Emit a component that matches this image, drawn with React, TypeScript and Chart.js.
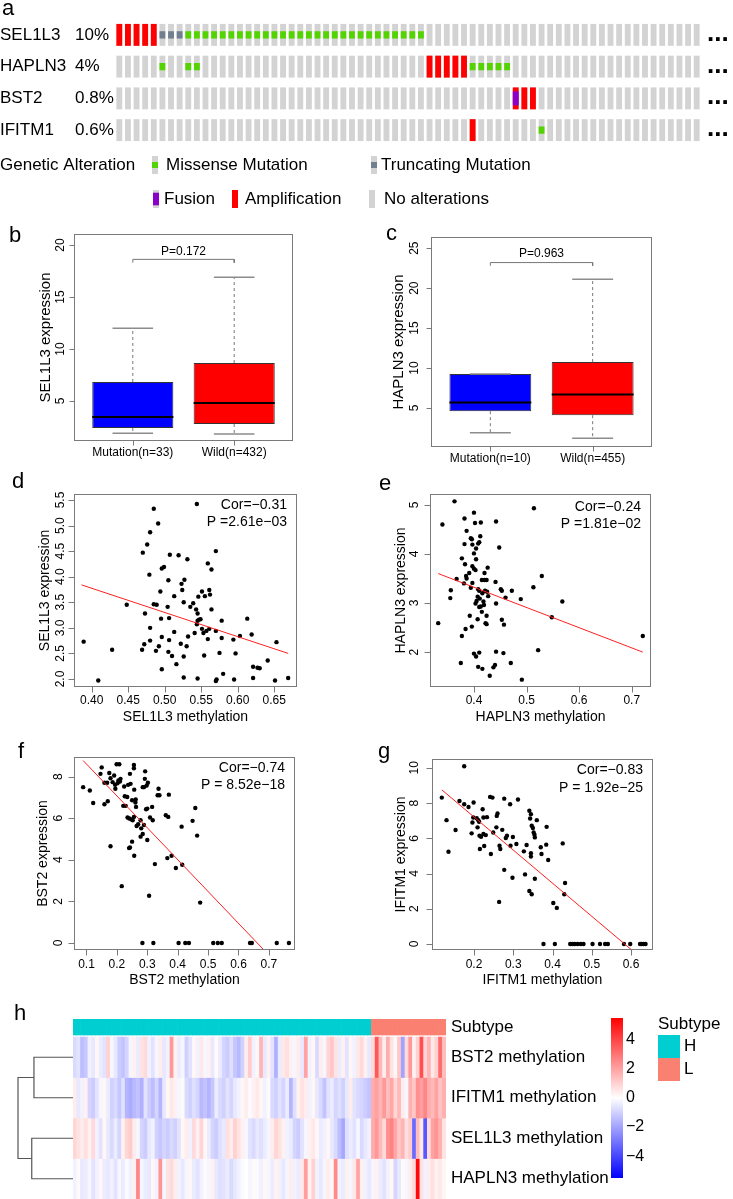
import React, { useEffect, useRef } from 'react';
import { Chart, registerables } from 'chart.js';

Chart.register(...registerables);

const FONT = '"Liberation Sans", Arial, Helvetica, sans-serif';
const font = (px: number) => `${px}px ${FONT}`;
const AXIS = '#7a7a7a';

/* ================= a: oncoprint ================= */
const genes = ['SEL1L3', 'HAPLN3', 'BST2', 'IFITM1'];
const alteredPct = ['10%', '4%', '0.8%', '0.6%'];
const caseIds = Array.from({ length: 68 }, (_, i) => `case ${i + 1}`);
const amplified = [[0, 1, 2, 3, 4], [36, 37, 38, 39, 40], [46, 47, 48], [41]];
const missenseMut = [
  [8, 9, 10, 11, 12, 13, 14, 15, 16, 17, 18, 19, 20, 21, 22, 23, 24, 25, 26, 27, 28, 29, 30, 31, 32, 33, 34, 35],
  [5, 8, 9, 41, 42, 43, 44, 45],
  [],
  [49],
];
const truncatingMut = [[5, 6, 7], [], [], []];
const fusions = [[], [], [46], []];
const legendTitle = 'Genetic Alteration';
const legendLabels = ['Missense Mutation', 'Truncating Mutation', 'Fusion', 'Amplification', 'No alterations'];
const legendKinds = ['missense', 'trunc', 'fusion', 'amp', 'none'];

const ONCO = { grey: '#D3D3D3', amp: '#FF0000', missense: '#53D400', trunc: '#708090', fusion: '#8B00C9' };

/* ================= b / c: boxplots ================= */
const bGroups = ['Mutation(n=33)', 'Wild(n=432)'];
const bLow = [1.9, 1.83];
const bQ1 = [2.4, 2.79];
const bMedian = [3.46, 4.8];
const bQ3 = [6.83, 8.65];
const bHigh = [12.0, 16.9];
const bYTicks = [5, 10, 15, 20];
const bPText = 'P=0.172';

const cGroups = ['Mutation(n=10)', 'Wild(n=455)'];
const cLow = [1.9, 1.2];
const cQ1 = [4.6, 4.1];
const cMedian = [5.7, 6.7];
const cQ3 = [9.25, 10.75];
const cHigh = [9.25, 21.1];
const cYTicks = [5, 10, 15, 20, 25];
const cPText = 'P=0.963';

/* ================= d-g: scatter plots ================= */
const dPoints: [number, number][] = [
  [0.389, 2.73], [0.409, 1.97], [0.428, 2.57], [0.448, 3.45], [0.469, 2.57], [0.472, 2.68], [0.473, 3.28], [0.470, 4.47], [0.476, 4.63], [0.480, 4.87],
  [0.485, 5.33], [0.491, 5.04], [0.479, 4.04], [0.480, 3.00], [0.480, 2.75], [0.488, 2.55], [0.492, 2.64], [0.485, 3.46], [0.489, 3.45], [0.494, 3.71],
  [0.495, 3.18], [0.496, 2.82], [0.496, 4.16], [0.499, 4.19], [0.496, 2.19], [0.505, 3.93], [0.504, 3.41], [0.506, 3.19], [0.505, 2.53], [0.506, 2.76],
  [0.507, 4.43], [0.510, 2.45], [0.513, 3.62], [0.513, 2.92], [0.516, 2.29], [0.519, 4.42], [0.523, 3.86], [0.524, 3.74], [0.527, 3.94], [0.526, 3.50],
  [0.526, 2.44], [0.522, 2.69], [0.526, 2.03], [0.531, 4.34], [0.530, 2.64], [0.532, 2.83], [0.535, 3.41], [0.539, 3.48], [0.541, 2.90], [0.543, 3.36],
  [0.544, 3.07], [0.544, 5.42], [0.545, 3.28], [0.545, 3.14], [0.546, 3.61], [0.547, 3.16], [0.545, 2.01], [0.549, 3.17], [0.551, 3.71], [0.551, 2.98],
  [0.553, 2.90], [0.554, 2.46], [0.555, 3.62], [0.557, 2.94], [0.559, 4.26], [0.559, 2.78], [0.561, 3.74], [0.562, 3.65], [0.561, 2.98], [0.564, 4.14],
  [0.564, 3.36], [0.570, 4.50], [0.570, 2.94], [0.570, 1.96], [0.571, 1.99], [0.575, 2.51], [0.578, 3.14], [0.578, 2.80], [0.580, 2.10], [0.594, 2.77],
  [0.597, 2.50], [0.595, 1.99], [0.603, 2.84], [0.613, 3.18], [0.619, 2.87], [0.621, 2.24], [0.621, 2.02], [0.627, 2.22], [0.630, 2.21], [0.641, 2.36],
  [0.653, 2.72], [0.651, 1.97], [0.669, 2.02],
];
const dFit: [number, number][] = [[0.386, 3.84], [0.669, 2.50]];
const dXTicks = [0.4, 0.45, 0.5, 0.55, 0.6, 0.65];
const dXLabels = ['0.40', '0.45', '0.50', '0.55', '0.60', '0.65'];
const dYTicks = [2, 2.5, 3, 3.5, 4, 4.5, 5, 5.5];
const dYLabels = ['2.0', '2.5', '3.0', '3.5', '4.0', '4.5', '5.0', '5.5'];
const dStats = ['Cor=\u22120.31', 'P =2.61e\u221203'];

const ePoints: [number, number][] = [
  [0.363, 5.07], [0.340, 4.60], [0.400, 4.84], [0.382, 4.72], [0.402, 4.63], [0.413, 4.64], [0.442, 4.66], [0.386, 4.47], [0.394, 4.32], [0.396, 4.30],
  [0.412, 4.36], [0.410, 4.24], [0.408, 4.21], [0.382, 4.20], [0.397, 4.19], [0.404, 4.11], [0.448, 4.13], [0.400, 4.01], [0.377, 3.91], [0.404, 3.89],
  [0.383, 3.79], [0.397, 3.75], [0.400, 3.70], [0.403, 3.67], [0.426, 3.72], [0.420, 3.61], [0.391, 3.61], [0.385, 3.55], [0.367, 3.49], [0.386, 3.50],
  [0.415, 3.47], [0.420, 3.47], [0.424, 3.47], [0.381, 3.40], [0.397, 3.41], [0.441, 3.43], [0.394, 3.31], [0.356, 3.26], [0.408, 3.28], [0.410, 3.25],
  [0.421, 3.25], [0.425, 3.23], [0.451, 3.28], [0.453, 3.25], [0.472, 3.25], [0.513, 3.32], [0.529, 3.55], [0.416, 3.20], [0.407, 3.13], [0.411, 3.09],
  [0.427, 3.14], [0.460, 3.11], [0.489, 3.08], [0.355, 3.10], [0.405, 3.04], [0.418, 3.03], [0.403, 2.99], [0.442, 2.99], [0.413, 2.93], [0.410, 2.92],
  [0.419, 2.96], [0.568, 3.03], [0.415, 2.82], [0.392, 2.74], [0.424, 2.74], [0.407, 2.67], [0.422, 2.59], [0.424, 2.57], [0.453, 2.66], [0.457, 2.56],
  [0.548, 2.71], [0.332, 2.59], [0.384, 2.47], [0.396, 2.52], [0.377, 2.33], [0.721, 2.33], [0.400, 1.97], [0.410, 1.99], [0.404, 1.91], [0.442, 2.01],
  [0.456, 1.98], [0.522, 2.04], [0.375, 1.78], [0.408, 1.70], [0.416, 1.66], [0.440, 1.74], [0.437, 1.69], [0.470, 1.78], [0.430, 1.52], [0.491, 1.44],
  [0.514, 4.93],
];
const eFit: [number, number][] = [[0.332, 3.60], [0.721, 2.00]];
const eXTicks = [0.4, 0.5, 0.6, 0.7];
const eXLabels = ['0.4', '0.5', '0.6', '0.7'];
const eYTicks = [2, 3, 4, 5];
const eYLabels = ['2', '3', '4', '5'];
const eStats = ['Cor=\u22120.24', 'P =1.81e\u221202'];

const fPoints: [number, number][] = [
  [0.089, 7.49], [0.111, 7.33], [0.122, 6.73], [0.146, 8.13], [0.150, 8.44], [0.159, 7.70], [0.168, 7.70], [0.175, 8.17], [0.179, 7.92], [0.186, 7.73],
  [0.191, 8.05], [0.194, 7.60], [0.195, 7.41], [0.199, 8.59], [0.208, 8.59], [0.205, 7.81], [0.212, 7.89], [0.210, 7.76], [0.202, 7.68], [0.221, 6.59],
  [0.229, 6.59], [0.224, 7.52], [0.234, 7.02], [0.237, 7.60], [0.243, 8.13], [0.245, 7.65], [0.250, 6.86], [0.256, 8.56], [0.256, 8.40], [0.257, 7.37],
  [0.261, 6.75], [0.263, 6.54], [0.235, 6.03], [0.241, 5.98], [0.248, 5.94], [0.252, 5.90], [0.265, 5.62], [0.256, 6.06], [0.270, 5.71], [0.278, 5.90],
  [0.280, 5.51], [0.278, 5.11], [0.285, 5.24], [0.289, 5.67], [0.293, 8.25], [0.285, 7.49], [0.289, 7.49], [0.298, 7.57], [0.302, 7.70], [0.292, 7.89],
  [0.300, 4.95], [0.250, 4.87], [0.243, 4.59], [0.240, 4.56], [0.257, 4.19], [0.179, 4.65], [0.216, 2.73], [0.306, 2.27], [0.296, 6.43], [0.300, 6.46],
  [0.316, 6.54], [0.309, 6.03], [0.318, 5.90], [0.334, 7.10], [0.337, 7.41], [0.340, 7.10], [0.325, 3.79], [0.361, 6.14], [0.369, 6.06], [0.371, 7.13],
  [0.366, 4.08], [0.380, 4.19], [0.394, 3.60], [0.413, 5.59], [0.415, 3.76], [0.449, 5.87], [0.458, 6.49], [0.464, 5.16], [0.474, 1.94], [0.226, 7.05],
  [0.262, 6.90], [0.170, 6.81], [0.159, 6.67],
  [0.284, 0], [0.320, 0], [0.403, 0], [0.425, 0], [0.437, 0], [0.517, 0], [0.532, 0], [0.545, 0], [0.638, 0], [0.644, 0], [0.726, 0], [0.766, 0],
];
const fFit: [number, number][] = [[0.089, 8.77], [0.766, -1.6]];
const fXTicks = [0.1, 0.2, 0.3, 0.4, 0.5, 0.6, 0.7];
const fXLabels = ['0.1', '0.2', '0.3', '0.4', '0.5', '0.6', '0.7'];
const fYTicks = [0, 2, 4, 6, 8];
const fYLabels = ['0', '2', '4', '6', '8'];
const fStats = ['Cor=\u22120.74', 'P = 8.52e\u221218'];

const gPoints: [number, number][] = [
  [0.175, 10.09], [0.118, 8.31], [0.130, 7.03], [0.153, 6.47], [0.135, 5.24], [0.163, 8.12], [0.175, 7.93], [0.186, 7.78], [0.199, 8.03], [0.198, 7.18],
  [0.196, 6.90], [0.207, 7.14], [0.211, 7.03], [0.213, 6.94], [0.209, 6.62], [0.222, 7.65], [0.224, 7.18], [0.233, 7.20], [0.194, 6.28], [0.214, 6.15],
  [0.218, 6.09], [0.224, 6.24], [0.230, 6.18], [0.215, 5.39], [0.226, 5.56], [0.241, 8.35], [0.247, 8.31], [0.243, 5.11], [0.249, 6.33], [0.258, 7.27],
  [0.260, 7.41], [0.257, 6.62], [0.265, 5.58], [0.267, 5.39], [0.272, 6.48], [0.277, 8.25], [0.281, 6.02], [0.284, 6.15], [0.292, 7.93], [0.293, 5.58],
  [0.299, 6.07], [0.308, 5.68], [0.312, 8.20], [0.277, 4.21], [0.298, 3.76], [0.264, 2.39], [0.327, 5.26], [0.330, 3.95], [0.334, 5.62], [0.341, 7.56],
  [0.343, 7.12], [0.345, 7.37], [0.347, 6.71], [0.350, 6.58], [0.352, 6.33], [0.354, 6.20], [0.355, 6.05], [0.360, 7.03], [0.345, 5.15], [0.345, 4.96],
  [0.355, 3.70], [0.341, 3.01], [0.347, 2.82], [0.370, 5.49], [0.372, 5.11], [0.385, 6.65], [0.384, 5.64], [0.389, 4.77], [0.402, 2.33], [0.411, 2.05],
  [0.426, 5.71], [0.432, 3.46], [0.430, 2.82],
  [0.377, 0], [0.406, 0], [0.445, 0], [0.451, 0], [0.457, 0], [0.464, 0], [0.472, 0], [0.479, 0], [0.502, 0], [0.521, 0],
  [0.534, 0], [0.541, 0], [0.582, 0], [0.598, 0], [0.623, 0], [0.627, 0], [0.632, 0], [0.637, 0],
];
const gFit: [number, number][] = [[0.118, 8.75], [0.637, -1.0]];
const gXTicks = [0.2, 0.3, 0.4, 0.5, 0.6];
const gXLabels = ['0.2', '0.3', '0.4', '0.5', '0.6'];
const gYTicks = [0, 2, 4, 6, 8, 10];
const gYLabels = ['0', '2', '4', '6', '8', '10'];
const gStats = ['Cor=\u22120.83', 'P = 1.92e\u221225'];

/* ================= h: heatmap ================= */
const heatRowNames = ['BST2 methylation', 'IFITM1 methylation', 'SEL1L3 methylation', 'HAPLN3 methylation'];
const subtypeGroups = ['H', 'L'];
const subtypeSizes = [80, 20];
const bst2Meth = [
  -0.8, -0.6, -1.4, -1.2, -0.3, -0.5, 0.2, -0.4, -0.6, 1.0, -0.2, -0.5, -1.1, -1.3, -0.9, -0.2, 0.3, -0.4, 0.6, 0.8,
  -0.3, -0.6, -0.2, 0.4, -0.5, -0.3, 2.2, 0.3, -0.4, -0.2, -1.0, -0.6, 0.2, -0.3, 0.5, -0.2, 0.3, -0.5, 0.1, -0.4,
  -0.9, -1.1, -0.7, -1.2, -1.5, -1.0, 0.4, 1.1, -0.3, 0.2, 1.6, -0.5, 0.3, -0.6, -1.7, -0.4, 0.5, 0.7, 0.3, -0.2,
  0.4, -0.5, 2.0, -0.3, 0.2, -0.8, 0.4, -0.2, 0.9, 1.2, 0.6, -0.4, 0.3, -0.6, 0.2, -0.3, 0.5, 0.8, 0.3, -0.5,
  0.8, 3.6, 1.5, 0.4, 1.8, 0.6, 0.2, 1.2, -2.0, 0.8, 2.2, 0.3, 1.0, 3.8, 0.9, 1.6, 0.5, 1.0, 3.2, 1.4,
];
const ifitm1Meth = [
  0.4, -0.5, -0.3, 0.3, -0.9, -1.1, -0.6, -0.2, 0.2, -0.4, -1.0, -0.8, -1.2, -0.7, -1.6, -1.8, -1.5, -1.3, -1.7, -0.6,
  -1.1, -1.4, -0.9, -1.6, -0.5, 0.2, 0.5, 0.3, -0.2, 0.1, -0.8, -1.0, -0.7, -0.9, -1.5, -1.3, -1.6, -1.2, -0.4, -0.8,
  -1.0, -0.6, -0.9, -0.5, -0.3, 0.2, 0.4, -0.1, 0.3, 0.5, 0.2, -0.3, 0.1, -0.8, -1.0, -0.6, -0.9, -0.4, -1.6, -0.7,
  0.3, 0.6, 0.4, -0.3, 0.2, -0.5, -0.8, -1.3, -0.6, -0.4, -0.9, -0.7, -1.0, -0.5, 0.4, -0.6, -0.8, -0.9, -1.1, -1.3,
  1.8, 2.0, 1.6, 2.2, 1.4, 1.9, 0.9, 1.5, 0.4, -0.2, 1.7, 1.2, 2.4, 2.1, 2.6, 1.8, 1.5, 2.0, 1.3, 1.7,
];
const sel1l3Meth = [
  0.9, 0.6, 0.4, 0.7, 0.3, 0.8, -0.3, -0.6, 0.2, -0.5, -0.8, -0.4, -0.9, 0.3, 0.9, 1.1, 0.4, -0.2, -0.9, -1.1,
  -0.5, -0.3, -1.0, -1.2, -0.9, -1.1, -0.8, -1.0, -0.6, 0.2, 0.4, -0.3, 0.8, 0.3, 0.9, 0.2, -0.4, -0.9, -1.1, -0.7,
  -0.5, 0.7, 0.4, 1.0, 0.6, 0.3, -0.2, -0.6, -0.8, -0.5, -0.7, -0.4, -0.2, 0.4, 0.9, 0.6, 0.3, -0.3, -0.4, -0.9,
  -1.1, -0.6, -0.2, 0.3, 0.5, 0.2, -0.4, -0.3, 0.2, -0.5, -0.8, -1.4, -1.9, -0.7, -0.4, -0.6, -0.2, -0.8, -0.5, -0.3,
  1.8, 2.2, 1.5, 0.8, 2.4, 2.7, 1.9, 1.2, 1.6, 0.7, 1.1, -3.2, 1.4, 0.5, -3.6, 0.8, 2.0, 2.3, 1.7, 0.6,
];
const hapln3Meth = [
  -0.3, 0.1, -0.5, -0.4, -0.2, -0.6, -0.3, 0.2, -0.4, -0.5, -0.3, -0.6, -0.2, -0.4, -0.1, -0.3, 0.3, 2.6, -0.2, -0.4,
  -0.5, 0.2, -0.3, 2.3, -0.2, 0.6, 0.8, 0.4, -0.3, -0.5, -0.2, 0.2, -0.4, -0.6, -0.3, 0.1, -0.2, 0.3, -0.5, -0.7,
  -0.6, -0.4, -0.8, -0.5, -0.3, -0.1, 0.0, -0.2, 0.1, -0.1, -0.3, 0.2, -0.2, -0.4, 0.3, -0.3, -0.5, -0.2, 0.4, -0.3,
  -0.4, 0.5, 2.1, 0.3, 1.0, -0.3, -0.5, -0.2, 0.4, 0.2, 2.5, -0.3, -0.4, 0.3, -0.2, 0.5, 2.0, 0.3, -0.3, -0.5,
  -0.2, 0.3, -0.4, -0.6, -0.3, 0.2, -0.9, -0.5, 0.1, -0.2, 0.4, 0.8, 5.3, 0.6, -0.3, 0.4, 0.7, 0.3, 0.5, 0.2,
];
const heatRows = [bst2Meth, ifitm1Meth, sel1l3Meth, hapln3Meth];
const clusterHeights = [0.71, 0.75, 1.0]; // (BST2,IFITM1), (SEL1L3,HAPLN3), root
const colorTicks = [4, 2, 0, -2, -4];
const colorTickLabels = ['4', '2', '0', '\u22122', '\u22124'];
const colorLimit = 5.5;
const SUBTYPE_COLORS = ['#00CED1', '#FA8072'];

/* ================= helpers ================= */
function drawText(ctx: CanvasRenderingContext2D, s: string, x: number, y: number, f: string, align: CanvasTextAlign = 'left', rot = 0, baseline: CanvasTextBaseline = 'middle', color = '#000') {
  ctx.save();
  ctx.font = f;
  ctx.fillStyle = color;
  ctx.textAlign = align;
  ctx.textBaseline = baseline;
  ctx.translate(x, y);
  if (rot) ctx.rotate(rot);
  ctx.fillText(s, 0, 0);
  ctx.restore();
}

const baseOptions = (padding: any) => ({
  responsive: false,
  animation: false,
  events: [],
  layout: { padding },
  plugins: { legend: { display: false }, tooltip: { enabled: false } },
});

type PanelCfg = {
  letter: [string, number, number];
  tickLen: number;
  xTicks: number[]; xTickLabels: string[]; xLabelY: number; xTickPx: number;
  xTitle?: string; xTitleY?: number;
  yTicks: number[]; yTickLabels: string[]; yLabelX: number; yTickPx: number;
  yTitle: string; yTitleX: number; titlePx: number;
  notes?: { text: string; x: number; y: number; align: CanvasTextAlign; px: number; data?: boolean }[];
};

function rPanel(cfg: PanelCfg) {
  return {
    id: 'rPanel',
    afterDatasetsDraw(chart: any) {
      const { ctx, chartArea: a, scales } = chart;
      const xs = scales.x;
      const ys = scales.y;
      ctx.save();
      ctx.strokeStyle = AXIS;
      ctx.lineWidth = 1;
      const L = Math.round(a.left) + 0.5;
      const T = Math.round(a.top) + 0.5;
      const R = Math.round(a.right) - 0.5;
      const B = Math.round(a.bottom) - 0.5;
      ctx.strokeRect(L, T, R - L, B - T);
      ctx.beginPath();
      cfg.xTicks.forEach((v) => {
        const px = Math.round(xs.getPixelForValue(v)) + 0.5;
        ctx.moveTo(px, B);
        ctx.lineTo(px, B + cfg.tickLen);
      });
      cfg.yTicks.forEach((v) => {
        const py = Math.round(ys.getPixelForValue(v)) + 0.5;
        ctx.moveTo(L, py);
        ctx.lineTo(L - cfg.tickLen, py);
      });
      ctx.stroke();
      ctx.restore();
      cfg.xTicks.forEach((v, i) => drawText(ctx, cfg.xTickLabels[i], xs.getPixelForValue(v), cfg.xLabelY, font(cfg.xTickPx), 'center'));
      cfg.yTicks.forEach((v, i) => drawText(ctx, cfg.yTickLabels[i], cfg.yLabelX, ys.getPixelForValue(v), font(cfg.yTickPx), 'center', -Math.PI / 2));
      if (cfg.xTitle) drawText(ctx, cfg.xTitle, (a.left + a.right) / 2, cfg.xTitleY as number, font(cfg.titlePx), 'center');
      drawText(ctx, cfg.yTitle, cfg.yTitleX, (a.top + a.bottom) / 2, font(cfg.titlePx), 'center', -Math.PI / 2);
      (cfg.notes || []).forEach((n) => {
        const x = n.data ? xs.getPixelForValue(n.x) : n.x;
        const y = n.data ? ys.getPixelForValue(n.y) : n.y;
        drawText(ctx, n.text, x, y, font(n.px), n.align);
      });
      drawText(ctx, cfg.letter[0], cfg.letter[1], cfg.letter[2], font(22), 'left', 0, 'alphabetic');
    },
  };
}

/* ================= chart configs ================= */
function oncoConfig() {
  const band = (lo: number, hi: number) => (r: number, c: number) => ({ x: caseIds[c], y: [r + lo, r + hi] });
  const full = band(0.155, 0.845);
  const mid = band(0.385, 0.615);
  const fus = band(0.28, 0.72);
  const ds = (data: any[], color: string, order: number) => ({
    data, backgroundColor: color, order, borderWidth: 0, grouped: false, barPercentage: 0.68, categoryPercentage: 1,
  });
  const grey = genes.flatMap((_, r) => caseIds.map((__, c) => full(r, c)));
  const amp = amplified.flatMap((cols, r) => cols.map((c) => full(r, c)));
  const fu = fusions.flatMap((cols, r) => cols.map((c) => fus(r, c)));
  const mis = missenseMut.flatMap((cols, r) => cols.map((c) => mid(r, c)));
  const tr = truncatingMut.flatMap((cols, r) => cols.map((c) => mid(r, c)));

  const swatchX = [152, 371, 153, 232, 369];
  const labelX = [166, 381, 164, 245, 384];
  const rowY = [165, 165, 199, 199, 199];

  const oncoText = {
    id: 'oncoText',
    afterDatasetsDraw(chart: any) {
      const { ctx, scales } = chart;
      const y = scales.y;
      genes.forEach((g, r) => {
        const cy = y.getPixelForValue(r + 0.5);
        drawText(ctx, g, 0, cy, font(17));
        drawText(ctx, alteredPct[r], 75, cy, font(17));
        drawText(ctx, '...', 707, cy + 6, `bold 26px ${FONT}`, 'left', 0, 'alphabetic');
      });
      drawText(ctx, 'a', 2, 15, font(22), 'left', 0, 'alphabetic');
      drawText(ctx, legendTitle, 0, 165, font(17));
      legendKinds.forEach((k, i) => {
        const x = swatchX[i];
        const yc = rowY[i];
        const h = 18;
        const top = yc - h / 2;
        ctx.fillStyle = k === 'amp' ? ONCO.amp : ONCO.grey;
        ctx.fillRect(x, top, 6, h);
        if (k === 'missense' || k === 'trunc') {
          ctx.fillStyle = k === 'missense' ? ONCO.missense : ONCO.trunc;
          ctx.fillRect(x, top + h / 3, 6, h / 3);
        }
        if (k === 'fusion') {
          ctx.fillStyle = ONCO.fusion;
          ctx.fillRect(x, top + h * 0.15, 6, h * 0.7);
        }
        drawText(ctx, legendLabels[i], labelX[i], yc, font(17));
      });
    },
  };

  return {
    type: 'bar',
    data: {
      labels: caseIds,
      datasets: [ds(grey, ONCO.grey, 5), ds(amp, ONCO.amp, 4), ds(fu, ONCO.fusion, 3), ds(mis, ONCO.missense, 2), ds(tr, ONCO.trunc, 1)],
    },
    options: {
      ...baseOptions({ left: 115, right: 32, top: 19, bottom: 215 - 146 }),
      scales: {
        x: { display: false },
        y: { type: 'linear', display: false, min: 0, max: 4, reverse: true },
      },
    },
    plugins: [oncoText],
  };
}

function boxConfig(o: {
  groups: string[]; low: number[]; q1: number[]; med: number[]; q3: number[]; high: number[];
  yTicks: number[]; yRange: [number, number]; padding: any; bracket: [number, number]; pText: string; pY: number;
  letter: [string, number, number]; xLabelY: number; yLabelX: number; yTitle: string; yTitleX: number;
}) {
  const pos = o.groups.map((_, i) => i + 1);
  const line = (data: any[], color: string, width: number, order: number, dash: number[] = []) => ({
    type: 'line', data, borderColor: color, borderWidth: width, borderDash: dash, pointRadius: 0, fill: false, order, spanGaps: false,
  });
  const whisk = pos.flatMap((x, i) => [
    { x, y: o.q3[i] }, { x, y: o.high[i] }, { x, y: null },
    { x, y: o.q1[i] }, { x, y: o.low[i] }, { x, y: null },
  ]);
  const caps = pos.flatMap((x, i) => [
    { x: x - 0.2, y: o.high[i] }, { x: x + 0.2, y: o.high[i] }, { x, y: null },
    { x: x - 0.2, y: o.low[i] }, { x: x + 0.2, y: o.low[i] }, { x, y: null },
  ]);
  const meds = pos.flatMap((x, i) => [{ x: x - 0.4, y: o.med[i] }, { x: x + 0.4, y: o.med[i] }, { x, y: null }]);
  const bracket = [
    { x: 1, y: o.bracket[0] }, { x: 1, y: o.bracket[1] }, { x: 2, y: o.bracket[1] }, { x: 2, y: o.bracket[0] },
  ];
  return {
    type: 'bar',
    data: {
      datasets: [
        {
          type: 'bar',
          data: pos.map((x, i) => ({ x, y: [o.q1[i], o.q3[i]] })),
          backgroundColor: ['#0000FF', '#FF0000'],
          borderColor: '#333333',
          borderWidth: 1,
          borderSkipped: false,
          barPercentage: 1,
          categoryPercentage: 0.8,
          grouped: false,
          order: 6,
        },
        line(whisk, '#777777', 1, 5, [3, 3]),
        line(caps, '#8c8c8c', 1.5, 4),
        line(meds, '#000000', 2, 1),
        line(bracket, '#777777', 1, 2),
      ],
    },
    options: {
      ...baseOptions(o.padding),
      scales: {
        x: {
          type: 'linear', display: false, min: 0.42, max: 2.58, offset: false,
          afterBuildTicks: (s: any) => { s.ticks = pos.map((v) => ({ value: v })); },
        },
        y: { type: 'linear', display: false, min: o.yRange[0], max: o.yRange[1] },
      },
    },
    plugins: [
      rPanel({
        letter: o.letter, tickLen: 5,
        xTicks: pos, xTickLabels: o.groups, xLabelY: o.xLabelY, xTickPx: 12,
        yTicks: o.yTicks, yTickLabels: o.yTicks.map(String), yLabelX: o.yLabelX, yTickPx: 12,
        yTitle: o.yTitle, yTitleX: o.yTitleX, titlePx: 15,
        notes: [{ text: o.pText, x: 1.5, y: o.pY, align: 'center', px: 12, data: true }],
      }),
    ],
  };
}

function scatterConfig(o: {
  points: [number, number][]; fit: [number, number][]; xRange: [number, number]; yRange: [number, number]; padding: any;
  cfg: PanelCfg;
}) {
  return {
    type: 'scatter',
    data: {
      datasets: [
        {
          data: o.fit.map(([x, y]) => ({ x, y })), showLine: true, borderColor: '#FF2020', borderWidth: 1, pointRadius: 0, order: 0,
        },
        {
          data: o.points.map(([x, y]) => ({ x, y })), pointRadius: 2.2, backgroundColor: '#000000', borderWidth: 0, order: 1,
        },
      ],
    },
    options: {
      ...baseOptions(o.padding),
      scales: {
        x: { type: 'linear', display: false, min: o.xRange[0], max: o.xRange[1] },
        y: { type: 'linear', display: false, min: o.yRange[0], max: o.yRange[1] },
      },
    },
    plugins: [rPanel(o.cfg)],
  };
}

function heatColor(v: number) {
  const t = Math.max(-1, Math.min(1, v / colorLimit));
  if (t >= 0) {
    const g = Math.round(255 * (1 - t));
    return `rgb(255,${g},${g})`;
  }
  const g = Math.round(255 * (1 + t));
  return `rgb(${g},${g},255)`;
}

const sampleIds = heatRows[0].map((_, i) => `S${i + 1}`);
const sampleSubtype = subtypeGroups.flatMap((g, k) => Array(subtypeSizes[k]).fill(g));

function heatConfig() {
  const cell = { borderWidth: 0, grouped: false, barPercentage: 1, categoryPercentage: 1 };
  const rowSets = heatRows.map((vals, r) => ({
    ...cell,
    data: vals.map((_, c) => ({ x: sampleIds[c], y: [r, r + 1] })),
    backgroundColor: vals.map(heatColor),
  }));
  const subtypeSet = {
    ...cell,
    data: sampleSubtype.map((_, c) => ({ x: sampleIds[c], y: [-0.445, -0.05] })),
    backgroundColor: sampleSubtype.map((s) => SUBTYPE_COLORS[subtypeGroups.indexOf(s)]),
  };
  const heatText = {
    id: 'heatText',
    afterDatasetsDraw(chart: any) {
      const { ctx, chartArea: a, scales } = chart;
      const y = scales.y;
      drawText(ctx, 'Subtype', a.right + 5, y.getPixelForValue(-0.25), font(17));
      heatRowNames.forEach((n, r) => drawText(ctx, n, a.right + 5, y.getPixelForValue(r + 0.5), font(17)));
    },
  };
  return {
    type: 'bar',
    data: { labels: sampleIds, datasets: [subtypeSet, ...rowSets] },
    options: {
      ...baseOptions({ left: 13, right: 560 - 386, top: 24, bottom: 0 }),
      scales: {
        x: { display: false },
        y: { type: 'linear', display: false, min: -0.445, max: 4, reverse: true },
      },
    },
    plugins: [heatText],
  };
}

function dendroConfig() {
  const [h1, h2, h3] = clusterHeights;
  const seg = (pts: [number, number][]) => ({
    data: pts.map(([x, y]) => ({ x, y })), showLine: true, borderColor: '#555555', borderWidth: 1.2, pointRadius: 0, clip: false,
  });
  const letter = {
    id: 'letterH',
    afterDatasetsDraw(chart: any) {
      drawText(chart.ctx, 'h', 14, 25, font(22), 'left', 0, 'alphabetic');
    },
  };
  return {
    type: 'scatter',
    data: {
      datasets: [
        seg([[0, 0.5], [h1, 0.5], [h1, 1.5], [0, 1.5]]),
        seg([[0, 2.5], [h2, 2.5], [h2, 3.5], [0, 3.5]]),
        seg([[h1, 1.0], [h3, 1.0], [h3, 3.0], [h2, 3.0]]),
      ],
    },
    options: {
      ...baseOptions({ left: 18, right: 7, top: 24, bottom: 0 }),
      scales: {
        x: { type: 'linear', display: false, min: 0, max: 1, reverse: true },
        y: { type: 'linear', display: false, min: -0.445, max: 4, reverse: true },
      },
    },
    plugins: [letter],
  };
}

function colorbarConfig() {
  const legendText = {
    id: 'cbText',
    afterDatasetsDraw(chart: any) {
      const { ctx, scales } = chart;
      const y = scales.y;
      colorTicks.forEach((v, i) => drawText(ctx, colorTickLabels[i], 26, y.getPixelForValue(v), font(16)));
      drawText(ctx, 'Subtype', 58, 29, font(17));
      subtypeGroups.forEach((g, k) => {
        ctx.fillStyle = SUBTYPE_COLORS[k];
        ctx.fillRect(58, 40 + k * 23, 22, 23);
        drawText(ctx, g, 84, 51.5 + k * 23, font(17));
      });
    },
  };
  return {
    type: 'bar',
    data: {
      labels: ['scale'],
      datasets: [
        {
          data: [[-colorLimit, colorLimit]],
          borderWidth: 0,
          barPercentage: 1,
          categoryPercentage: 1,
          backgroundColor: (c: any) => {
            const a = c.chart.chartArea;
            if (!a) return '#ffffff';
            const g = c.chart.ctx.createLinearGradient(0, a.bottom, 0, a.top);
            g.addColorStop(0, '#0000FF');
            g.addColorStop(0.5, '#FFFFFF');
            g.addColorStop(1, '#FF0000');
            return g;
          },
        },
      ],
    },
    options: {
      ...baseOptions({ left: 11, right: 110, top: 23, bottom: 21 }),
      scales: {
        x: { display: false },
        y: { type: 'linear', display: false, min: -colorLimit, max: colorLimit },
      },
    },
    plugins: [legendText],
  };
}

/* ================= components ================= */
function ChartCanvas({ left, top, width, height, build }: { left: number; top: number; width: number; height: number; build: () => any }) {
  const ref = useRef<HTMLCanvasElement | null>(null);
  useEffect(() => {
    if (!ref.current) return;
    const chart = new Chart(ref.current, build());
    return () => chart.destroy();
  }, []);
  return <canvas ref={ref} width={width} height={height} style={{ position: 'absolute', left, top, width, height }} />;
}

export default function App() {
  return (
    <div style={{ position: 'absolute', left: 0, top: 0, width: 733, height: 1199, background: '#ffffff', overflow: 'hidden' }}>
      <ChartCanvas left={0} top={0} width={733} height={215} build={oncoConfig} />
      <ChartCanvas
        left={0} top={215} width={365} height={255}
        build={() => boxConfig({
          groups: bGroups, low: bLow, q1: bQ1, med: bMedian, q3: bQ3, high: bHigh,
          yTicks: bYTicks, yRange: [1.15, 21.06], padding: { left: 74, top: 19, right: 72, bottom: 29 },
          bracket: [18.3, 18.62], pText: bPText, pY: 19.36,
          letter: ['b', 9, 27], xLabelY: 238, yLabelX: 61, yTitle: 'SEL1L3 expression', yTitleX: 46,
        })}
      />
      <ChartCanvas
        left={365} top={215} width={368} height={255}
        build={() => boxConfig({
          groups: cGroups, low: cLow, q1: cQ1, med: cMedian, q3: cQ3, high: cHigh,
          yTicks: cYTicks, yRange: [0.12, 26.4], padding: { left: 66, top: 22, right: 81, bottom: 23 },
          bracket: [22.8, 23.2], pText: cPText, pY: 24.34,
          letter: ['c', 21, 25], xLabelY: 244, yLabelX: 50, yTitle: 'HAPLN3 expression', yTitleX: 34,
        })}
      />
      <ChartCanvas
        left={0} top={465} width={365} height={265}
        build={() => scatterConfig({
          points: dPoints, fit: dFit, xRange: [0.3758, 0.6811], yRange: [1.843, 5.617],
          padding: { left: 74, top: 29, right: 68, bottom: 43 },
          cfg: {
            letter: ['d', 12, 23], tickLen: 6,
            xTicks: dXTicks, xTickLabels: dXLabels, xLabelY: 236, xTickPx: 12, xTitle: 'SEL1L3 methylation', xTitleY: 252,
            yTicks: dYTicks, yTickLabels: dYLabels, yLabelX: 61, yTickPx: 12, yTitle: 'SEL1L3 expression', yTitleX: 45, titlePx: 14,
            notes: [
              { text: dStats[0], x: 287, y: 40, align: 'right', px: 14 },
              { text: dStats[1], x: 287, y: 57, align: 'right', px: 14 },
            ],
          },
        })}
      />
      <ChartCanvas
        left={365} top={465} width={368} height={265}
        build={() => scatterConfig({
          points: ePoints, fit: eFit, xRange: [0.3164, 0.7366], yRange: [1.29, 5.22],
          padding: { left: 65, top: 29, right: 82, bottom: 43 },
          cfg: {
            letter: ['e', 14, 25], tickLen: 6,
            xTicks: eXTicks, xTickLabels: eXLabels, xLabelY: 236, xTickPx: 12, xTitle: 'HAPLN3 methylation', xTitleY: 252,
            yTicks: eYTicks, yTickLabels: eYLabels, yLabelX: 50, yTickPx: 12, yTitle: 'HAPLN3 expression', yTitleX: 36, titlePx: 14,
            notes: [
              { text: eStats[0], x: 276, y: 42, align: 'right', px: 14 },
              { text: eStats[1], x: 276, y: 59, align: 'right', px: 14 },
            ],
          },
        })}
      />
      <ChartCanvas
        left={0} top={730} width={365} height={265}
        build={() => scatterConfig({
          points: fPoints, fit: fFit, xRange: [0.0589, 0.786], yRange: [-0.34, 8.94],
          padding: { left: 74, top: 27, right: 70, bottom: 45 },
          cfg: {
            letter: ['f', 18, 28], tickLen: 6,
            xTicks: fXTicks, xTickLabels: fXLabels, xLabelY: 235, xTickPx: 12, xTitle: 'BST2 methylation', xTitleY: 250,
            yTicks: fYTicks, yTickLabels: fYLabels, yLabelX: 59, yTickPx: 12, yTitle: 'BST2 expression', yTitleX: 43, titlePx: 14,
            notes: [
              { text: fStats[0], x: 285, y: 38, align: 'right', px: 14 },
              { text: fStats[1], x: 285, y: 55, align: 'right', px: 14 },
            ],
          },
        })}
      />
      <ChartCanvas
        left={365} top={730} width={368} height={265}
        build={() => scatterConfig({
          points: gPoints, fit: gFit, xRange: [0.093, 0.656], yRange: [-0.34, 10.5],
          padding: { left: 67, top: 29, right: 80, bottom: 45 },
          cfg: {
            letter: ['g', 13, 28], tickLen: 6,
            xTicks: gXTicks, xTickLabels: gXLabels, xLabelY: 235, xTickPx: 12, xTitle: 'IFITM1 methylation', xTitleY: 250,
            yTicks: gYTicks, yTickLabels: gYLabels, yLabelX: 50, yTickPx: 12, yTitle: 'IFITM1 expression', yTitleX: 36, titlePx: 14,
            notes: [
              { text: gStats[0], x: 278, y: 40, align: 'right', px: 14 },
              { text: gStats[1], x: 278, y: 58, align: 'right', px: 14 },
            ],
          },
        })}
      />
      <ChartCanvas left={60} top={995} width={560} height={204} build={heatConfig} />
      <ChartCanvas left={0} top={995} width={80} height={204} build={dendroConfig} />
      <ChartCanvas left={600} top={995} width={133} height={204} build={colorbarConfig} />
    </div>
  );
}
